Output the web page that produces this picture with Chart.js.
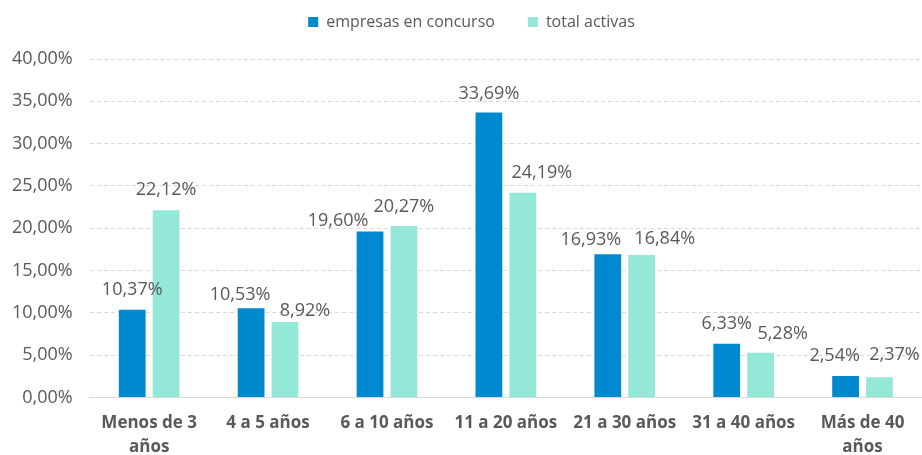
<!DOCTYPE html>
<html>
<head>
<meta charset="utf-8">
<script src="https://cdn.jsdelivr.net/npm/chart.js@4/dist/chart.umd.min.js"></script>
<style>
  html, body { margin: 0; padding: 0; background: #ffffff; }
  #wrap { width: 922px; height: 455px; position: relative; }
</style>
</head>
<body>
<div id="wrap"><canvas id="c"></canvas></div>
<script>
// ---- data ----
const categories = [["Menos de 3", "años"], "4 a 5 años", "6 a 10 años", "11 a 20 años", "21 a 30 años", "31 a 40 años", ["Más de 40", "años"]];
const seriesNames = ["empresas en concurso", "total activas"];
const concurso = [10.37, 10.53, 19.60, 33.69, 16.93, 6.33, 2.54];
const activas = [22.12, 8.92, 20.27, 24.19, 16.84, 5.28, 2.37];
const yTicks = [0, 5, 10, 15, 20, 25, 30, 35, 40];

// ---- label placement tweaks (pixels), per dataset / point ----
const labelShift = [
  [[0, 20], [-11, 13], [-32, 11], [0, 19], [-17, 14], [0, 20], [-11, 20]],
  [[0, 20], [20, 11], [0, 19], [19, 20], [23, 16], [22, 19], [15, 22]]
];

const fmt = v => v.toFixed(2).replace('.', ',') + '%';
const TEXT = '#595959';
const FONT = "'Open Sans', 'Noto Sans', sans-serif";

const valueLabels = {
  id: 'valueLabels',
  afterDatasetsDraw(chart) {
    const ctx = chart.ctx;
    ctx.save();
    ctx.font = "18px " + FONT;
    ctx.fillStyle = TEXT;
    ctx.textAlign = 'center';
    ctx.textBaseline = 'middle';
    chart.data.datasets.forEach((ds, di) => {
      const meta = chart.getDatasetMeta(di);
      meta.data.forEach((bar, i) => {
        const s = labelShift[di][i];
        ctx.fillText(fmt(ds.data[i]), bar.x + s[0], bar.y - s[1]);
      });
    });
    ctx.restore();
  }
};

// adds extra space below the legend and nudges it horizontally
const legendGap = {
  id: 'legendGap',
  beforeInit(chart) {
    const lg = chart.legend;
    if (lg && !lg._gapPatched) {
      const origFit = lg.fit;
      lg.fit = function () { origFit.call(this); this.height += 19; };
      const origDraw = lg.draw;
      lg.draw = function () {
        const ctx = this.ctx;
        ctx.save();
        ctx.translate(13, 0);
        origDraw.call(this);
        ctx.restore();
      };
      lg._gapPatched = true;
    }
  }
};

new Chart(document.getElementById('c'), {
  type: 'bar',
  data: {
    labels: categories,
    datasets: [
      { label: seriesNames[0], data: concurso, backgroundColor: '#0089CF', categoryPercentage: 0.57, barPercentage: 0.79 },
      { label: seriesNames[1], data: activas, backgroundColor: '#94E8D8', categoryPercentage: 0.57, barPercentage: 0.79 }
    ]
  },
  options: {
    responsive: true,
    maintainAspectRatio: false,
    animation: false,
    layout: { padding: { left: -5, right: 0, top: -19, bottom: -10 } },
    plugins: {
      legend: {
        position: 'top',
        labels: {
          boxWidth: 10, boxHeight: 10, padding: 33,
          color: TEXT,
          font: { family: FONT, size: 16 }
        }
      },
      tooltip: { enabled: false }
    },
    scales: {
      x: {
        grid: { display: false },
        border: { display: true, color: '#d9d9d9', width: 1 },
        ticks: { color: TEXT, font: { family: FONT, size: 17, weight: 'bold', lineHeight: 1.4 }, padding: 6, maxRotation: 0, autoSkip: false }
      },
      y: {
        min: 0, max: 40,
        afterBuildTicks: axis => { axis.ticks = yTicks.map(v => ({ value: v })); },
        grid: { color: '#d9d9d9', lineWidth: 1, drawTicks: false },
        border: { display: false, dash: [4, 3] },
        ticks: { color: TEXT, font: { family: FONT, size: 18 }, padding: 17, callback: v => fmt(v) }
      }
    }
  },
  plugins: [legendGap, valueLabels]
});
</script>
</body>
</html>
